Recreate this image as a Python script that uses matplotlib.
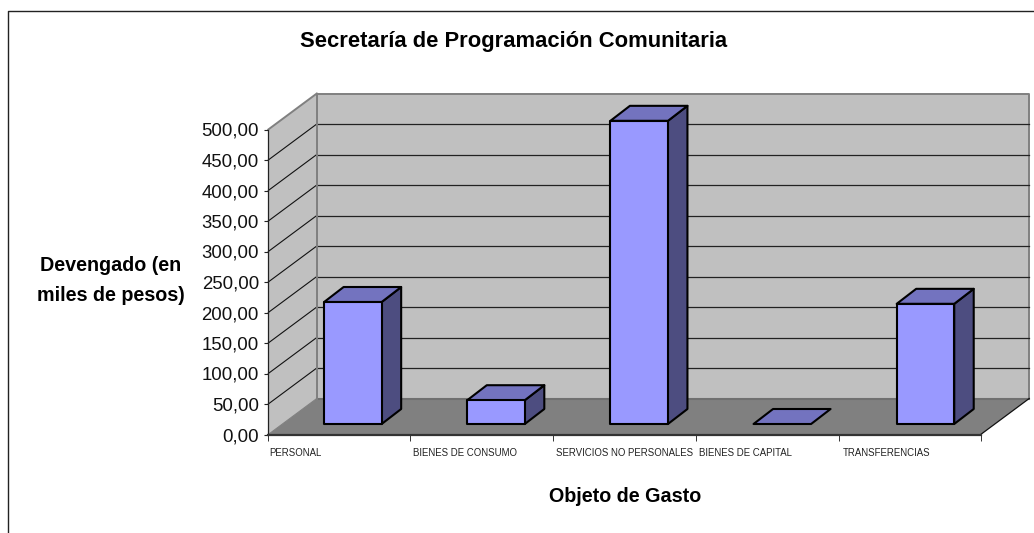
import matplotlib
matplotlib.use("Agg")
import matplotlib.pyplot as plt
from matplotlib.lines import Line2D
from matplotlib.patches import Polygon
from matplotlib.transforms import Affine2D

plt.rcParams['font.family'] = ['Liberation Sans', 'DejaVu Sans']

categories = ["PERSONAL", "BIENES DE CONSUMO", "SERVICIOS NO PERSONALES",
              "BIENES DE CAPITAL", "TRANSFERENCIAS"]
values = [200, 39, 497, 0, 197]
y_ticks = [0, 50, 100, 150, 200, 250, 300, 350, 400, 450, 500]
y_labels = ["0,00", "50,00", "100,00", "150,00", "200,00", "250,00",
            "300,00", "350,00", "400,00", "450,00", "500,00"]
title = "Secretaría de Programación Comunitaria"
ylabel = "Devengado (en\nmiles de pesos)"
xlabel = "Objeto de Gasto"

W, H = 1034, 533
fig = plt.figure(figsize=(W / 100, H / 100), dpi=100, facecolor='white')
X0, X1, YB, YT = 268.3, 980.7, 434.5, 129.5
ax = fig.add_axes([X0 / W, (H - YB) / H, (X1 - X0) / W, (YB - YT) / H])
xmin, xmax = 0.012, 4.989
ax.set_xlim(xmin, xmax)
ax.set_ylim(0, 500)
ax.patch.set_visible(False)

DX, DY = 48.5, 36.0         # wall depth in pixels
ZX0, ZY0 = 14.6, 10.5       # bar front offset
BX, BY = 19.5, 15.0         # bar depth
BAR_L, BAR_W = 0.3, 0.402


def shifted(dx, dy):
    return ax.transData + Affine2D().translate(dx, dy)


def poly(pts, tr, fc, ec='none', lw=0, z=1):
    ax.add_patch(Polygon(pts, closed=True, transform=tr, facecolor=fc,
                         edgecolor=ec, linewidth=lw, zorder=z, clip_on=False,
                         joinstyle='round'))


back = shifted(DX, DY)
# Back wall
poly([(xmin, 0), (xmax, 0), (xmax, 500), (xmin, 500)], back, '#C0C0C0', '#808080', 1.4, 1)

# Side wall and floor
to_disp = ax.transData.transform
c00, c01 = to_disp((xmin, 0)), to_disp((xmin, 500))
c10 = to_disp((xmax, 0))
ident = Affine2D()
poly([c00, c01, c01 + (DX, DY), c00 + (DX, DY)], ident, '#C0C0C0', 'none', 0, 1)
poly([c00, c10, c10 + (DX, DY), c00 + (DX, DY)], ident, '#808080', 'none', 0, 1.1)

# Gridlines
for v in y_ticks[1:-1]:
    ax.plot([xmin, xmax], [v, v], transform=back, color='#222222', lw=0.9, zorder=1.2, clip_on=False)
    p = to_disp((xmin, v))
    ax.add_line(Line2D([p[0], p[0] + DX], [p[1], p[1] + DY], transform=ident,
                       color='#111111', lw=0.8, zorder=1.2, clip_on=False))
# Wall borders
ax.plot([xmin, xmax], [0, 0], transform=back, color='#707070', lw=1.5, zorder=1.3, clip_on=False)
ax.plot([xmin, xmin], [0, 500], transform=back, color='#808080', lw=1.4, zorder=1.3, clip_on=False)
ax.add_line(Line2D([c01[0], c01[0] + DX], [c01[1], c01[1] + DY], transform=ident,
                   color='#808080', lw=1.4, zorder=1.3, clip_on=False))
ax.add_line(Line2D([c00[0], c00[0] + DX], [c00[1], c00[1] + DY], transform=ident,
                   color='#808080', lw=0.8, zorder=1.3, clip_on=False))
ax.add_line(Line2D([c10[0], c10[0] + DX], [c10[1], c10[1] + DY], transform=ident,
                   color='#111111', lw=0.9, zorder=1.3, clip_on=False))

# Bars
for i, v in enumerate(values):
    l, r = i + BAR_L, i + BAR_L + BAR_W
    fa = to_disp((l, 0)) + (ZX0, ZY0)
    fb = to_disp((r, 0)) + (ZX0, ZY0)
    ft = to_disp((r, v)) + (ZX0, ZY0)
    fl = to_disp((l, v)) + (ZX0, ZY0)
    d = (BX, BY)
    if v > 0:
        poly([fb, ft, ft + d, fb + d], ident, '#4D4D80', 'black', 1.5, 3)
    poly([fl, ft, ft + d, fl + d], ident, '#7373BF', 'black', 1.5, 3)
    if v > 0:
        poly([fa, fb, ft, fl], ident, '#9999FF', 'black', 1.5, 3)

# Axes
for s in ('top', 'right'):
    ax.spines[s].set_visible(False)
ax.spines['left'].set_linewidth(0.9)
ax.spines['left'].set_color('#222222')
ax.spines['bottom'].set_linewidth(1.6)
ax.spines['bottom'].set_color('#333333')
ax.set_yticks(y_ticks)
ax.set_yticklabels(y_labels, fontsize=13.4, color='#111111')
ax.tick_params(axis='y', length=3.2, width=0.8, pad=3.5, color='#222222')
ax.set_xticks([xmin, 1, 2, 3, 4, xmax])
ax.set_xticklabels(categories + [""], fontsize=6.95, ha='left', color='#222222')
ax.tick_params(axis='x', length=4, width=0.7, pad=6, color='#333333')
for i, t in enumerate(ax.get_xticklabels()):
    t.set_transform(t.get_transform() + Affine2D().translate(1.0 if i == 0 else 3.5, 0))

fig.text(514 / W, (H - 42) / H, title, ha='center', va='center', fontsize=15.85, fontweight='bold', color='black')
fig.text(111 / W, (H - 280.5) / H, ylabel, ha='center', va='center', fontsize=14.2, fontweight='bold',
         color='black', linespacing=1.7)
fig.text(625 / W, (H - 496) / H, xlabel, ha='center', va='center', fontsize=14.2, fontweight='bold', color='black')

# Outer frame
fig.add_artist(Line2D([8 / W, 8 / W, 1], [0, (H - 11) / H, (H - 11) / H], transform=fig.transFigure,
                      color='#222222', lw=1.0))

fig.savefig('out.png', dpi=100, facecolor='white')
